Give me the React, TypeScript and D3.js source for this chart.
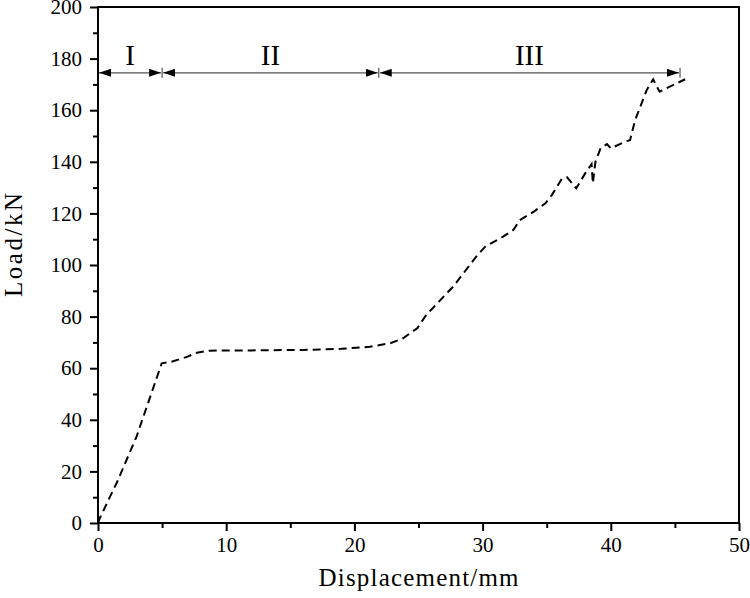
import { useEffect, useRef } from "react";
import * as d3 from "d3";

// load-displacement curve
const displacement = [
  0, 0.15, 1.5, 3.0, 4.97, 5.74, 7.0, 7.7, 8.7, 12, 16, 19, 21.2, 22.8, 23.8,
  24.9, 25.6, 27.7, 29.5, 30.2, 31.6, 32.4, 32.9, 34.0, 34.9, 35.4, 36.2, 36.6,
  37.3, 38.0, 38.5, 38.6, 38.8, 39.2, 39.7, 40.0, 41.1, 41.5, 41.9, 42.8, 43.3,
  43.8, 44.6, 45.8,
];
const load = [
  0, 2, 16, 33.4, 61.9, 62.5, 64.5, 66, 66.8, 66.9, 67.1, 67.5, 68.3, 69.7, 71.6,
  75.5, 80.6, 91.6, 103.2, 107.1, 111.0, 113.6, 117.4, 120.7, 123.9, 127.1,
  133.6, 134.0, 129.7, 135.5, 139.1, 131.7, 140, 145.2, 146.9, 145.2, 147.8,
  148.4, 156.2, 167.8, 172.0, 167.2, 169.1, 172.0,
];

// stage boundaries (mm) and labels
const stageBounds = [0, 5, 21.9, 45.4];
const stageLabels = ["I", "II", "III"];
const stageLoad = 174.5;

const xTicks = [0, 10, 20, 30, 40, 50];
const yTicks = [0, 20, 40, 60, 80, 100, 120, 140, 160, 180, 200];

export default function App() {
  const ref = useRef<SVGSVGElement>(null);
  const width = 750;
  const height = 598;
  const margin = { left: 98, right: 11, top: 7, bottom: 75 };

  useEffect(() => {
    const svg = d3.select(ref.current);
    svg.selectAll("*").remove();

    const x = d3
      .scaleLinear()
      .domain([0, 50])
      .range([margin.left, width - margin.right]);
    const y = d3
      .scaleLinear()
      .domain([0, 200])
      .range([height - margin.bottom, margin.top]);

    const serif = "'Liberation Serif', 'Times New Roman', serif";

    // frame
    svg
      .append("rect")
      .attr("x", x(0))
      .attr("y", y(200))
      .attr("width", x(50) - x(0))
      .attr("height", y(0) - y(200))
      .attr("fill", "none")
      .attr("stroke", "#000")
      .attr("stroke-width", 2);

    // bottom axis
    const xAxis = svg
      .append("g")
      .attr("transform", `translate(0,${y(0)})`)
      .call(
        d3
          .axisBottom(x)
          .tickValues(xTicks)
          .tickSize(8)
          .tickPadding(6)
          .tickFormat(d3.format("d"))
      );
    xAxis.attr("font-family", null).attr("font-size", null);
    xAxis.select(".domain").remove();
    xAxis.selectAll("line").attr("stroke-width", 2);
    xAxis
      .selectAll("text")
      .style("font-family", serif)
      .style("font-size", "21px")
      .attr("fill", "#000");

    svg
      .append("g")
      .attr("transform", `translate(0,${y(0)})`)
      .call(
        d3
          .axisBottom(x)
          .tickValues([5, 15, 25, 35, 45])
          .tickSize(5)
          .tickFormat(() => "")
      )
      .call((g) => g.select(".domain").remove())
      .selectAll("line")
      .attr("stroke-width", 2);

    // left axis
    const yAxis = svg
      .append("g")
      .attr("transform", `translate(${x(0)},0)`)
      .call(
        d3
          .axisLeft(y)
          .tickValues(yTicks)
          .tickSize(8)
          .tickPadding(8)
          .tickFormat(d3.format("d"))
      );
    yAxis.attr("font-family", null).attr("font-size", null);
    yAxis.select(".domain").remove();
    yAxis.selectAll("line").attr("stroke-width", 2);
    yAxis
      .selectAll("text")
      .style("font-family", serif)
      .style("font-size", "21px")
      .attr("fill", "#000");

    svg
      .append("g")
      .attr("transform", `translate(${x(0)},0)`)
      .call(
        d3
          .axisLeft(y)
          .tickValues(d3.range(10, 200, 20))
          .tickSize(5)
          .tickFormat(() => "")
      )
      .call((g) => g.select(".domain").remove())
      .selectAll("line")
      .attr("stroke-width", 2);

    // axis titles
    svg
      .append("text")
      .attr("x", (x(0) + x(50)) / 2)
      .attr("y", 586)
      .attr("text-anchor", "middle")
      .style("font-family", serif)
      .style("font-size", "25px")
      .attr("textLength", 200)
      .attr("lengthAdjust", "spacing")
      .text("Displacement/mm");

    svg
      .append("text")
      .attr("transform", `translate(22,${245}) rotate(-90)`)
      .attr("text-anchor", "middle")
      .style("font-family", serif)
      .style("font-size", "25px")
      .attr("textLength", 104)
      .attr("lengthAdjust", "spacing")
      .text("Load/kN");

    // stage arrows
    const defs = svg.append("defs");
    defs
      .append("marker")
      .attr("id", "arrow")
      .attr("viewBox", "0 0 12 8")
      .attr("refX", 12)
      .attr("refY", 4)
      .attr("markerWidth", 12)
      .attr("markerHeight", 8)
      .attr("markerUnits", "userSpaceOnUse")
      .attr("orient", "auto-start-reverse")
      .append("path")
      .attr("d", "M0,0L12,4L0,8Z")
      .attr("fill", "#000");

    const ya = y(stageLoad);
    stageLabels.forEach((lab, i) => {
      const x0 = stageBounds[i];
      const x1 = stageBounds[i + 1];
      svg
        .append("line")
        .attr("x1", x(x0) + 1)
        .attr("x2", x(x1) - 1)
        .attr("y1", ya)
        .attr("y2", ya)
        .attr("stroke", "#555")
        .attr("stroke-width", 1.2)
        .attr("marker-start", "url(#arrow)")
        .attr("marker-end", "url(#arrow)");
      svg
        .append("text")
        .attr("x", x((x0 + x1) / 2))
        .attr("y", ya - 8)
        .attr("text-anchor", "middle")
        .style("font-family", serif)
        .style("font-size", "29px")
        .text(lab);
    });
    stageBounds.slice(1).forEach((b) => {
      svg
        .append("line")
        .attr("x1", x(b))
        .attr("x2", x(b))
        .attr("y1", ya - 5)
        .attr("y2", ya + 5)
        .attr("stroke", "#555")
        .attr("stroke-width", 1.2);
    });

    // curve
    const pts = displacement.map((d, i) => [d, load[i]] as [number, number]);
    const line = d3
      .line<[number, number]>()
      .x((d) => x(d[0]))
      .y((d) => y(d[1]));
    svg
      .append("path")
      .datum(pts)
      .attr("d", line)
      .attr("fill", "none")
      .attr("stroke", "#000")
      .attr("stroke-width", 2)
      .attr("stroke-dasharray", "8,5");
  }, []);

  return (
    <svg
      ref={ref}
      width={width}
      height={height}
      style={{ position: "absolute", left: 0, top: 0, background: "#fff" }}
    ></svg>
  );
}
